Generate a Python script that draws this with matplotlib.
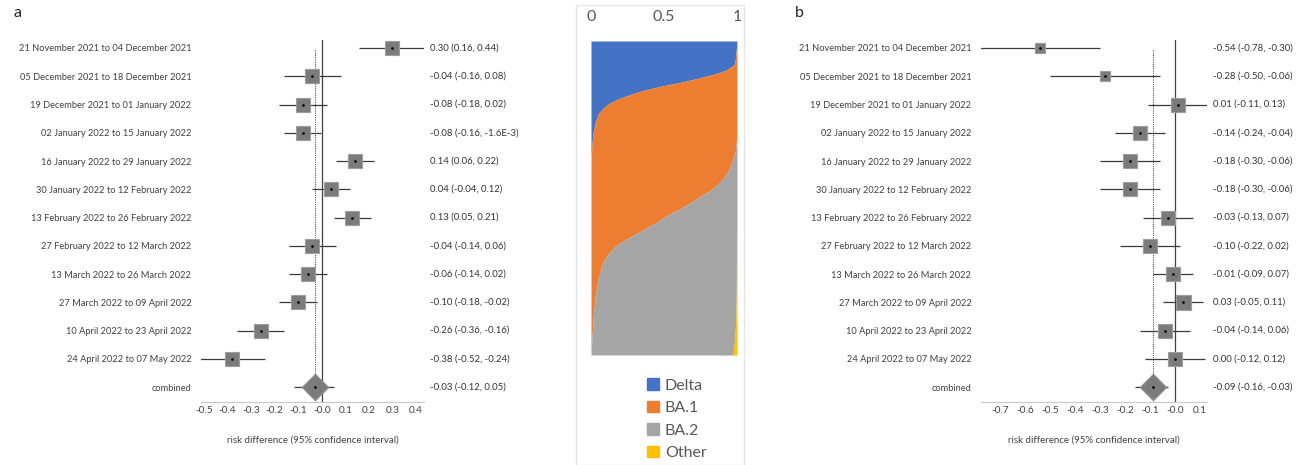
import numpy as np
import matplotlib.pyplot as plt
from matplotlib.patches import Patch, Rectangle

plt.rcParams['font.family'] = ['Lato', 'DejaVu Sans']

periods = ['21 November 2021 to 04 December 2021', '05 December 2021 to 18 December 2021',
           '19 December 2021 to 01 January 2022', '02 January 2022 to 15 January 2022',
           '16 January 2022 to 29 January 2022', '30 January 2022 to 12 February 2022',
           '13 February 2022 to 26 February 2022', '27 February 2022 to 12 March 2022',
           '13 March 2022 to 26 March 2022', '27 March 2022 to 09 April 2022',
           '10 April 2022 to 23 April 2022', '24 April 2022 to 07 May 2022', 'combined']

# panel a: risk difference, lower and upper CI
rd_a = [0.30, -0.04, -0.08, -0.08, 0.14, 0.04, 0.13, -0.04, -0.06, -0.10, -0.26, -0.38, -0.03]
lo_a = [0.16, -0.16, -0.18, -0.16, 0.06, -0.04, 0.05, -0.14, -0.14, -0.18, -0.36, -0.52, -0.12]
hi_a = [0.44, 0.08, 0.02, -0.0016, 0.22, 0.12, 0.21, 0.06, 0.02, -0.02, -0.16, -0.24, 0.05]

# panel b
rd_b = [-0.54, -0.28, 0.01, -0.14, -0.18, -0.18, -0.03, -0.10, -0.01, 0.03, -0.04, 0.00, -0.09]
lo_b = [-0.78, -0.50, -0.11, -0.24, -0.30, -0.30, -0.13, -0.22, -0.09, -0.05, -0.14, -0.12, -0.16]
hi_b = [-0.30, -0.06, 0.13, -0.04, -0.06, -0.06, 0.07, 0.02, 0.07, 0.11, 0.06, 0.12, -0.03]

# middle panel: variant mix per sample (rank from top to bottom)
mix_pos = [0.0, 0.029, 0.054, 0.076, 0.092, 0.105, 0.118, 0.131, 0.143, 0.156, 0.169, 0.182,
           0.197, 0.213, 0.232, 0.258, 0.299, 0.347, 0.379, 0.411, 0.436, 0.455, 0.475, 0.494,
           0.510, 0.529, 0.554, 0.580, 0.596, 0.611, 0.634, 0.656, 0.682, 0.713, 0.755, 0.809,
           0.863, 0.904, 0.936, 0.968, 1.0]
delta = [1.0, 0.995, 0.99, 0.98, 0.93, 0.85, 0.74, 0.62, 0.49, 0.37, 0.28, 0.20,
         0.13, 0.085, 0.05, 0.03, 0.012, 0.004, 0, 0, 0, 0, 0, 0,
         0, 0, 0, 0, 0, 0, 0, 0, 0, 0, 0, 0,
         0, 0, 0, 0, 0]
ba1 = [0.0, 0.005, 0.01, 0.02, 0.07, 0.15, 0.26, 0.38, 0.51, 0.63, 0.72, 0.80,
       0.87, 0.915, 0.95, 0.97, 0.988, 0.986, 0.97, 0.945, 0.91, 0.87, 0.82, 0.75,
       0.70, 0.63, 0.53, 0.44, 0.38, 0.32, 0.23, 0.16, 0.11, 0.075, 0.05, 0.03,
       0.018, 0.012, 0.007, 0.003, 0.0]
ba2 = [0, 0, 0, 0, 0, 0, 0, 0, 0, 0, 0, 0,
       0, 0, 0, 0, 0, 0.01, 0.03, 0.055, 0.09, 0.13, 0.18, 0.25,
       0.30, 0.37, 0.47, 0.56, 0.62, 0.68, 0.768, 0.838, 0.887, 0.921, 0.946, 0.965,
       0.975, 0.978, 0.979, 0.977, 0.972]
other = [0, 0, 0, 0, 0, 0, 0, 0, 0, 0, 0, 0,
         0, 0, 0, 0, 0, 0, 0, 0, 0, 0, 0, 0,
         0, 0, 0, 0, 0, 0, 0.002, 0.002, 0.003, 0.004, 0.004, 0.005,
         0.007, 0.01, 0.014, 0.02, 0.028]
variants = ['Delta', 'BA.1', 'BA.2', 'Other']
variant_colors = ['#4472C4', '#ED7D31', '#A5A5A5', '#FFC000']

# square sizes in panel b (points)
box_b = [7.7, 7.7, 10.1, 10.6, 10.1, 10.1, 10.5, 10.1, 10.3, 10.8, 10.1, 10.1]


def fmt(v):
    if v != 0 and abs(v) < 0.005:
        m, e = f'{v:.1E}'.split('E')
        return f'{m}E{int(e)}'
    return f'{v:.2f}'


def forest(ax, rd, lo, hi, xlim, ticks, sizes):
    n = len(rd)
    y = np.arange(n)
    ax.hlines(y, lo, hi, color='#3a3a3a', lw=0.9, zorder=2)
    for i in range(n - 1):
        ax.plot(rd[i], y[i], 's', ms=sizes[i], mfc='#7b7b7b', mec='#9c9c9c', mew=0.8, zorder=3)
    ax.plot(rd[-1], y[-1], 'D', ms=13, mfc='#7b7b7b', mec='#8c8c8c', zorder=3)
    ax.plot(rd, y, 'o', ms=0.9, color='black', zorder=4)
    ax.axvline(0, color='#404040', lw=0.9, zorder=1)
    ax.vlines(rd[-1], 0.08, n - 0.47, color='#555555', lw=0.8, linestyles=(0, (1, 1)), zorder=1)
    ax.set_xlim(xlim)
    ax.set_ylim(n - 0.47, -0.283)
    ax.set_yticks(y)
    ax.set_yticklabels(periods, fontsize=6.7, color='#404040')
    ax.set_xticks(ticks)
    ax.set_xticklabels([f'{t:.1f}' for t in ticks], fontsize=7.2, color='#404040')
    ax.tick_params(axis='y', length=0, pad=7)
    ax.tick_params(axis='x', length=0, pad=3)
    for s in ['top', 'right', 'left']:
        ax.spines[s].set_visible(False)
    ax.spines['bottom'].set_color('#c8c8c8')
    ax.set_xlabel('risk difference (95% confidence interval)', fontsize=7, color='#404040', labelpad=15)
    for i in range(n):
        ax.text(1.027, y[i], f'{fmt(rd[i])} ({fmt(lo[i])}, {fmt(hi[i])})', transform=ax.get_yaxis_transform(),
                ha='left', va='center', fontsize=6.9, color='#333333')


fig = plt.figure(figsize=(13.14, 4.65), dpi=100)

ax_a = fig.add_axes([201 / 1314, 1 - 402 / 465, 223 / 1314, 362 / 465])
forest(ax_a, rd_a, lo_a, hi_a, (-0.513, 0.434), np.round(np.arange(-0.5, 0.41, 0.1), 1), [10.1] * 12)

ax_b = fig.add_axes([981 / 1314, 1 - 402 / 465, 226 / 1314, 362 / 465])
forest(ax_b, rd_b, lo_b, hi_b, (-0.776, 0.128), np.round(np.arange(-0.7, 0.11, 0.1), 1), box_b)

# middle panel
ax_m = fig.add_axes([591 / 1314, 1 - 355 / 465, 146 / 1314, 314 / 465])
left = np.zeros(len(mix_pos))
for vals, c in zip([delta, ba1, ba2, other], variant_colors):
    right = left + np.array(vals)
    ax_m.fill_betweenx(mix_pos, left, right, color=c, lw=0)
    left = right
ax_m.set_xlim(0, 1)
ax_m.set_ylim(1, 0)
ax_m.xaxis.tick_top()
ax_m.set_xticks([0, 0.5, 1])
ax_m.set_xticklabels(['0', '0.5', '1'], fontsize=11.5, color='#595959')
ax_m.tick_params(axis='x', length=0, pad=12)
ax_m.set_yticks([])
for s in ax_m.spines.values():
    s.set_visible(False)

handles = [Patch(color=c, label=v) for v, c in zip(variants, variant_colors)]
fig.legend(handles=handles, loc='upper left', bbox_to_anchor=(633 / 1314, 1 - 364 / 465), frameon=False,
           fontsize=11.5, handlelength=0.75, handleheight=0.75, handletextpad=0.35, labelspacing=0.5,
           labelcolor='#595959')

fig.patches.append(Rectangle((576 / 1314, 0), 168 / 1314, 460 / 465, transform=fig.transFigure,
                             fill=False, edgecolor='#e6e6e6', lw=1))

fig.text(13 / 1314, 1 - 13 / 465, 'a', fontsize=11.5, va='center', color='#222222')
fig.text(795 / 1314, 1 - 13 / 465, 'b', fontsize=11.5, va='center', color='#222222')

plt.savefig('out.png', dpi=100)
